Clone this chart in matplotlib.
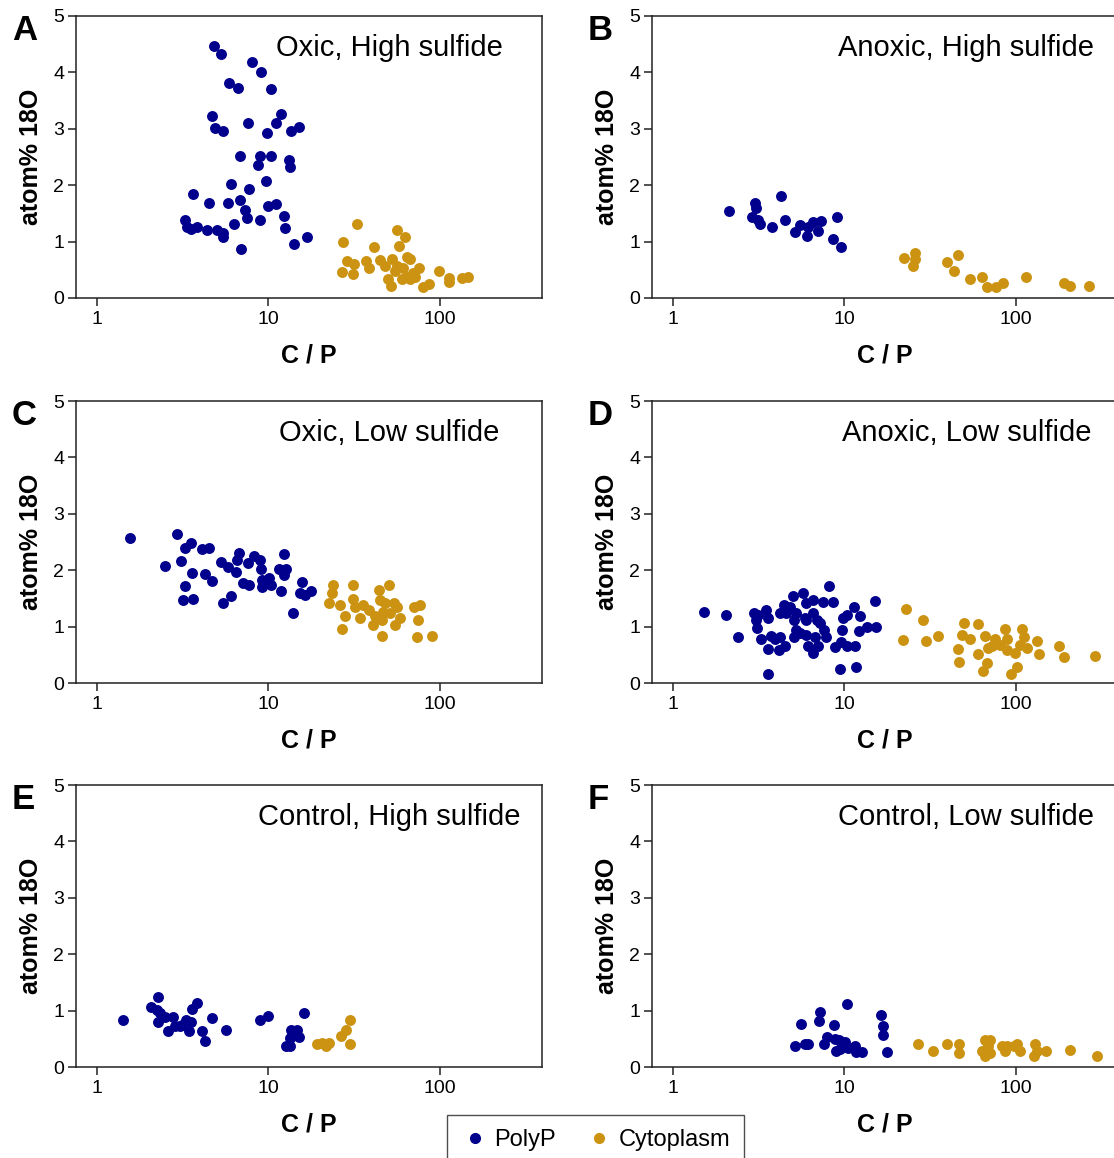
import numpy as np
import matplotlib
matplotlib.use("Agg")
import matplotlib.pyplot as plt
from matplotlib.lines import Line2D

plt.rcParams['font.family'] = ['Liberation Sans', 'DejaVu Sans']

POLYP_COLOR = '#00008c'
CYTO_COLOR = '#cc9312'

# --- A: Oxic, High sulfide ---
a_polyp_cp = [4.81, 5.28, 8.05, 9.08, 5.86, 6.61, 10.4, 4.66, 11.8, 4.85, 5.40, 7.59, 11.0, 9.80,
              13.5, 15.0, 6.79, 8.96, 10.3, 8.69, 13.2, 13.3, 6.02, 7.70, 9.67, 3.63, 4.50, 5.83,
              6.82, 9.89, 11.0, 7.33, 7.46, 8.96, 12.4, 3.26, 3.33, 3.56, 3.81, 4.36, 4.99, 5.45,
              5.45, 6.32, 12.5, 6.88, 14.1, 16.7]
a_polyp_o18 = [4.46, 4.33, 4.19, 4.00, 3.82, 3.72, 3.71, 3.22, 3.27, 3.01, 2.96, 3.10, 3.11, 2.93,
               2.96, 3.03, 2.51, 2.52, 2.52, 2.35, 2.45, 2.33, 2.03, 1.93, 2.07, 1.85, 1.68, 1.69,
               1.73, 1.64, 1.66, 1.56, 1.41, 1.39, 1.45, 1.38, 1.26, 1.22, 1.26, 1.21, 1.21, 1.16,
               1.09, 1.32, 1.25, 0.86, 0.96, 1.09]
a_cyto_cp = [33.0, 27.4, 41.4, 56.6, 62.8, 57.9, 28.8, 31.5, 26.7, 31.1, 37.0, 38.7, 44.7, 47.8,
             52.3, 55.9, 63.9, 66.8, 50.0, 51.8, 59.8, 63.9, 69.9, 75.8, 66.8, 71.5, 79.9, 86.7,
             99.1, 113, 113, 135, 146, 54.7, 61.1]
a_cyto_o18 = [1.31, 0.99, 0.90, 1.20, 1.08, 0.93, 0.66, 0.61, 0.46, 0.43, 0.66, 0.54, 0.67, 0.57,
              0.70, 0.57, 0.72, 0.70, 0.34, 0.22, 0.34, 0.38, 0.44, 0.54, 0.33, 0.37, 0.20, 0.24,
              0.48, 0.35, 0.28, 0.36, 0.38, 0.47, 0.53]

# --- B: Anoxic, High sulfide ---
b_polyp_cp = [2.11, 3.00, 3.07, 2.89, 3.14, 3.24, 3.77, 4.27, 4.51, 5.14, 5.50, 6.09, 6.15, 6.58,
              7.03, 7.29, 9.00, 8.53, 9.50]
b_polyp_o18 = [1.55, 1.69, 1.59, 1.43, 1.38, 1.31, 1.26, 1.81, 1.39, 1.17, 1.30, 1.10, 1.26, 1.35,
               1.19, 1.37, 1.43, 1.05, 0.91]
b_cyto_cp = [22.3, 25.8, 25.9, 25.0, 39.9, 46.0, 43.6, 54.3, 63.6, 67.7, 76.7, 83.6, 114, 190, 206, 266]
b_cyto_o18 = [0.71, 0.79, 0.70, 0.57, 0.64, 0.76, 0.48, 0.34, 0.38, 0.20, 0.20, 0.27, 0.37, 0.26, 0.22, 0.22]

# --- C: Oxic, Low sulfide ---
c_polyp_cp = [1.56, 2.94, 3.54, 3.28, 4.08, 4.50, 2.50, 3.11, 3.58, 4.27, 4.67, 3.25, 3.16, 3.62,
              5.41, 6.03, 5.29, 5.84, 6.48, 6.77, 6.53, 7.08, 7.71, 7.57, 8.28, 8.94, 9.02, 9.14,
              9.14, 10.1, 10.4, 11.9, 11.5, 12.4, 12.7, 12.3, 14.0, 15.8, 15.2, 16.4, 17.7]
c_polyp_o18 = [2.57, 2.65, 2.48, 2.40, 2.37, 2.40, 2.08, 2.16, 1.95, 1.94, 1.81, 1.72, 1.47, 1.49,
               1.42, 1.54, 2.14, 2.05, 1.97, 2.31, 2.18, 1.78, 1.73, 2.12, 2.26, 2.18, 2.03, 1.82,
               1.71, 1.86, 1.74, 1.64, 2.03, 2.28, 2.03, 1.91, 1.24, 1.79, 1.59, 1.56, 1.64]
c_cyto_cp = [23.7, 31.3, 50.2, 23.5, 43.9, 22.7, 26.0, 31.3, 32.0, 35.8, 38.4, 28.0, 34.3, 41.0,
             45.8, 44.9, 48.0, 53.7, 56.1, 51.3, 58.7, 54.8, 26.8, 45.8, 70.2, 76.1, 75.0, 73.4,
             89.8, 46.9, 41.9]
c_cyto_o18 = [1.73, 1.73, 1.73, 1.59, 1.65, 1.41, 1.38, 1.49, 1.35, 1.38, 1.29, 1.19, 1.15, 1.03,
              1.12, 1.47, 1.41, 1.41, 1.35, 1.24, 1.15, 1.03, 0.96, 0.84, 1.34, 1.38, 1.12, 0.82,
              0.84, 1.26, 1.18]

# --- D: Anoxic, Low sulfide ---
d_polyp_cp = [1.52, 2.03, 2.40, 2.97, 3.07, 3.10, 3.25, 3.51, 3.59, 3.59, 3.72, 3.93, 4.16, 4.20,
              4.43, 4.49, 4.59, 4.80, 5.02, 5.07, 5.07, 5.25, 5.75, 5.88, 5.96, 6.01, 6.15, 6.58,
              6.58, 6.72, 7.03, 7.19, 7.52, 7.62, 7.80, 8.15, 8.61, 8.80, 9.62, 9.84, 9.54, 10.3,
              11.3, 11.5, 12.2, 12.3, 13.6, 15.1, 15.3, 3.59, 9.41, 11.7, 5.50, 4.20, 6.58, 3.14,
              6.01, 5.25, 6.88, 10.3]
d_polyp_o18 = [1.26, 1.20, 0.82, 1.25, 1.12, 0.98, 0.78, 1.29, 1.15, 0.60, 0.84, 0.78, 0.59, 0.81,
               1.38, 0.66, 1.24, 1.35, 1.54, 1.11, 0.81, 1.24, 1.59, 1.15, 1.41, 0.85, 0.65, 0.53,
               1.24, 0.82, 0.66, 1.06, 1.44, 0.94, 0.82, 1.72, 1.44, 0.64, 0.94, 1.15, 0.72, 0.65,
               1.35, 0.65, 0.92, 1.18, 1.00, 1.45, 0.99, 0.16, 0.25, 0.28, 0.88, 1.24, 1.47, 1.21,
               1.12, 0.94, 1.12, 1.21]
d_cyto_cp = [22.8, 28.7, 22.1, 29.9, 35.0, 50.1, 60.0, 48.4, 54.1, 46.2, 46.9, 60.5, 66.2, 69.2,
             75.7, 67.7, 64.7, 86.7, 88.6, 108, 111, 88.6, 99.1, 116, 133, 136, 101, 93.5, 178,
             192, 291, 81.0, 106, 72.4]
d_cyto_o18 = [1.31, 1.11, 0.76, 0.75, 0.84, 1.07, 1.05, 0.85, 0.78, 0.61, 0.38, 0.52, 0.84, 0.62,
              0.78, 0.35, 0.22, 0.95, 0.78, 0.96, 0.81, 0.58, 0.53, 0.62, 0.75, 0.52, 0.29, 0.16,
              0.66, 0.46, 0.47, 0.68, 0.68, 0.65]

# --- E: Control, High sulfide ---
e_polyp_cp = [1.41, 2.07, 2.28, 2.23, 2.34, 2.50, 2.26, 2.79, 2.86, 2.58, 3.06, 3.31, 3.53, 3.42,
              3.58, 3.83, 4.09, 4.28, 4.68, 5.68, 8.98, 10.0, 16.1, 13.6, 14.7, 13.4, 15.0, 12.7,
              13.4, 3.13]
e_polyp_o18 = [0.83, 1.07, 1.24, 1.01, 0.96, 0.88, 0.79, 0.88, 0.72, 0.64, 0.72, 0.83, 0.79, 0.63,
               1.03, 1.13, 0.64, 0.46, 0.87, 0.65, 0.83, 0.90, 0.96, 0.66, 0.66, 0.51, 0.54, 0.37,
               0.37, 0.75]
e_cyto_cp = [19.3, 20.6, 21.8, 22.5, 26.4, 28.2, 29.9, 29.9]
e_cyto_o18 = [0.40, 0.42, 0.38, 0.42, 0.55, 0.65, 0.83, 0.40]

# --- F: Control, Low sulfide ---
f_polyp_cp = [5.16, 5.62, 5.88, 6.15, 7.19, 7.13, 8.72, 7.62, 7.94, 8.80, 8.92, 9.29, 10.3, 10.1,
              10.5, 11.5, 11.7, 12.6, 16.3, 16.7, 16.7, 17.6, 9.41]
f_polyp_o18 = [0.38, 0.77, 0.40, 0.41, 0.97, 0.81, 0.75, 0.40, 0.53, 0.50, 0.28, 0.48, 1.12, 0.45,
               0.34, 0.37, 0.26, 0.26, 0.93, 0.72, 0.57, 0.26, 0.32]
f_cyto_cp = [26.8, 33.0, 39.9, 46.9, 46.9, 66.2, 70.8, 63.3, 66.2, 70.8, 82.8, 86.7, 96.9, 101,
             105, 130, 127, 133, 150, 208, 297, 69.2, 88.6]
f_cyto_o18 = [0.41, 0.28, 0.40, 0.40, 0.25, 0.47, 0.48, 0.28, 0.20, 0.24, 0.37, 0.29, 0.37, 0.40,
              0.29, 0.40, 0.20, 0.29, 0.28, 0.31, 0.20, 0.37, 0.37]

panels = [
    ('A', 'Oxic, High sulfide', a_polyp_cp, a_polyp_o18, a_cyto_cp, a_cyto_o18),
    ('B', 'Anoxic, High sulfide', b_polyp_cp, b_polyp_o18, b_cyto_cp, b_cyto_o18),
    ('C', 'Oxic, Low sulfide', c_polyp_cp, c_polyp_o18, c_cyto_cp, c_cyto_o18),
    ('D', 'Anoxic, Low sulfide', d_polyp_cp, d_polyp_o18, d_cyto_cp, d_cyto_o18),
    ('E', 'Control, High sulfide', e_polyp_cp, e_polyp_o18, e_cyto_cp, e_cyto_o18),
    ('F', 'Control, Low sulfide', f_polyp_cp, f_polyp_o18, f_cyto_cp, f_cyto_o18),
]

W, H = 1114, 1158
fig = plt.figure(figsize=(W / 100, H / 100), dpi=100)

# pixel layout of the 3x2 grid
col_left = [76, 652]
row_bottom = [298, 683, 1067]
ax_w, ax_h = 466, 282
title_right = [503, 1094, 499, 1092, 521, 1094]

for i, (letter, title, pcp, po, ccp, co) in enumerate(panels):
    r, c = divmod(i, 2)
    x0 = col_left[c]
    y0 = row_bottom[r]
    ax = fig.add_axes([x0 / W, 1 - y0 / H, ax_w / W, ax_h / H])
    ax.scatter(pcp, po, s=62, color=POLYP_COLOR, linewidths=0, zorder=3)
    ax.scatter(ccp, co, s=62, color=CYTO_COLOR, linewidths=0, zorder=3)
    ax.set_xscale('log')
    ax.set_xlim(0.755, 394)
    ax.set_ylim(0, 5)
    ax.set_xticks([1, 10, 100])
    ax.set_xticklabels(['1', '10', '100'])
    ax.xaxis.set_minor_locator(matplotlib.ticker.NullLocator())
    ax.set_yticks([0, 1, 2, 3, 4, 5])
    ax.tick_params(direction='out', length=5.5, width=1.1, labelsize=14, color='#222222')
    ax.tick_params(axis='x', pad=4)
    ax.tick_params(axis='y', pad=3)
    for sp in ax.spines.values():
        sp.set_linewidth(1.1)
        sp.set_color('#222222')
    ax.text((title_right[i] - x0) / ax_w, 0.858, title, transform=ax.transAxes,
            ha='right', va='baseline', fontsize=21)
    ax.text(-0.097, 0.5, 'atom% 18O', transform=ax.transAxes, rotation=90,
            ha='center', va='center', fontsize=18, fontweight='bold')
    ax.text(0.5, -0.230, 'C / P', transform=ax.transAxes, ha='center', va='baseline',
            fontsize=18, fontweight='bold')
    fig.text((12 if c == 0 else 588) / W, 1 - (y0 - 258) / H, letter,
             fontsize=25, fontweight='bold', va='baseline', ha='left')

handles = [Line2D([], [], marker='o', linestyle='none', color=POLYP_COLOR, markersize=7),
           Line2D([], [], marker='o', linestyle='none', color=CYTO_COLOR, markersize=7)]
leg = fig.legend(handles, ['PolyP', 'Cytoplasm'], loc='upper center',
                 bbox_to_anchor=(595.5 / W, 1 - 1115 / H), ncol=2, fontsize=17,
                 frameon=True, fancybox=False, edgecolor='#222222', handlelength=1.2,
                 handletextpad=0.2, columnspacing=1.25, borderpad=0.6, borderaxespad=0)
leg.get_frame().set_linewidth(1.0)

fig.savefig('out.png', dpi=100)
